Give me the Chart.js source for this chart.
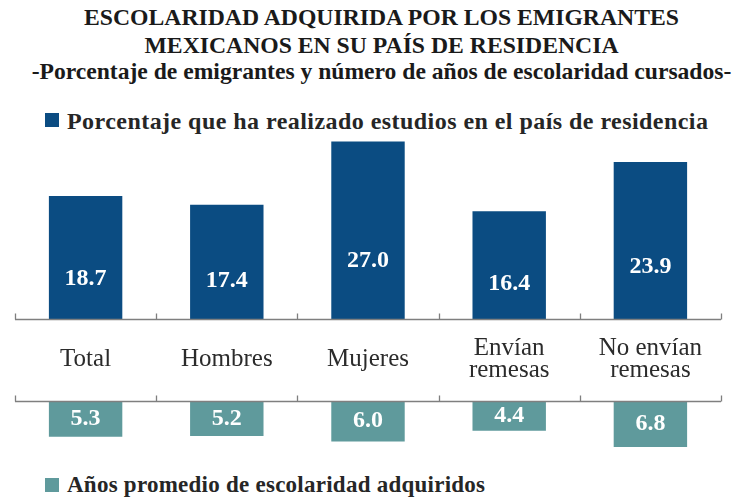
<!DOCTYPE html>
<html>
<head>
<meta charset="utf-8">
<script src="https://cdn.jsdelivr.net/npm/chart.js@4/dist/chart.umd.min.js"></script>
<style>
  body { margin: 0; width: 739px; height: 501px; background: #fff; position: relative; overflow: hidden; font-family: "Liberation Serif", serif; color: #1a1a1a; }
  .t { position: absolute; left: 12px; width: 739px; text-align: center; font-weight: bold; white-space: nowrap; line-height: 1; }
  .legend { position: absolute; left: 67px; font-weight: bold; white-space: nowrap; line-height: 1; color: #262626; }
  .sq { position: absolute; left: 45px; width: 14px; height: 14px; }
  canvas { position: absolute; left: 0; }
</style>
</head>
<body>
<div class="t" style="top:6px;font-size:23.7px;">ESCOLARIDAD ADQUIRIDA POR LOS EMIGRANTES</div>
<div class="t" style="top:34px;font-size:23.7px;">MEXICANOS EN SU PAÍS DE RESIDENCIA</div>
<div class="t" style="top:60px;font-size:23.6px;">-Porcentaje de emigrantes y número de años de escolaridad cursados-</div>
<div class="sq" style="top:113px;background:#0b4c82"></div>
<div class="legend" style="top:109px;font-size:24px;letter-spacing:0.45px;">Porcentaje que ha realizado estudios en el país de residencia</div>
<div class="sq" style="top:478px;background:#5f9a9c"></div>
<div class="legend" style="top:473px;font-size:23px;letter-spacing:0.25px;">Años promedio de escolaridad adquiridos</div>
<canvas id="top" width="739" height="267" style="top:128px"></canvas>
<canvas id="bottom" width="739" height="70" style="top:395px"></canvas>
<script>
const categories = [['Total'], ['Hombres'], ['Mujeres'], ['Envían', 'remesas'], ['No envían', 'remesas']];
const pctStudied = [18.7, 17.4, 27.0, 16.4, 23.9];
const avgYears = [5.3, 5.2, 6.0, 4.4, 6.8];

const BLUE = '#0b4c82';
const TEAL = '#5f9a9c';

// axis line with upward boundary ticks, optional category labels below
function axisPlugin(withLabels) {
  return {
    id: 'axisLine',
    afterDatasetsDraw(chart) {
      const { ctx } = chart;
      const x = chart.scales.x, y = chart.scales.y;
      const base = Math.round(y.getPixelForValue(0)) + 0.5;
      ctx.save();
      ctx.strokeStyle = '#7f7f7f';
      ctx.lineWidth = 1.3;
      ctx.beginPath();
      ctx.moveTo(x.getPixelForValue(-0.5), base);
      ctx.lineTo(x.getPixelForValue(categories.length - 0.5), base);
      for (let i = 0; i <= categories.length; i++) {
        const px = Math.round(x.getPixelForValue(i - 0.5)) + 0.5;
        ctx.moveTo(px, base);
        ctx.lineTo(px, base - 6);
      }
      ctx.stroke();
      if (withLabels) {
        ctx.fillStyle = '#2b2b2b';
        ctx.font = '25px "Liberation Serif", serif';
        ctx.textAlign = 'center';
        ctx.textBaseline = 'middle';
        const lh = 22;
        categories.forEach((lines, i) => {
          const cx = x.getPixelForValue(i);
          const cy = base + 40;
          lines.forEach((ln, j) => {
            ctx.fillText(ln, cx, cy + (j - (lines.length - 1) / 2) * lh);
          });
        });
      }
      ctx.restore();
    }
  };
}

// white value labels inside bars
function valuePlugin(pos) {
  return {
    id: 'values',
    afterDatasetsDraw(chart) {
      const { ctx } = chart;
      const ds = chart.data.datasets[0];
      const x = chart.scales.x, y = chart.scales.y;
      ctx.save();
      ctx.fillStyle = '#ffffff';
      ctx.font = 'bold 24px "Liberation Serif", serif';
      ctx.textAlign = 'center';
      ctx.textBaseline = 'middle';
      ds.data.forEach((v, i) => {
        ctx.fillText(v.toFixed(1), x.getPixelForValue(i), y.getPixelForValue(v * pos));
      });
      ctx.restore();
    }
  };
}

function baseOptions(padding, yMax, reverse) {
  return {
    responsive: false,
    animation: false,
    layout: { padding },
    plugins: { legend: { display: false }, tooltip: { enabled: false } },
    scales: {
      x: { display: false, offset: true },
      y: { display: false, min: 0, max: yMax, reverse }
    }
  };
}

new Chart(document.getElementById('top'), {
  type: 'bar',
  data: {
    labels: categories,
    datasets: [{ data: pctStudied, backgroundColor: BLUE, categoryPercentage: 1, barPercentage: 0.52 }]
  },
  options: baseOptions({ top: 7, bottom: 76, left: 15, right: 18 }, 28, false),
  plugins: [valuePlugin(0.33), axisPlugin(true)]
});

new Chart(document.getElementById('bottom'), {
  type: 'bar',
  data: {
    labels: categories,
    datasets: [{ data: avgYears, backgroundColor: TEAL, categoryPercentage: 1, barPercentage: 0.52 }]
  },
  options: baseOptions({ top: 6, bottom: 10, left: 15, right: 18 }, 8, true),
  plugins: [valuePlugin(0.5), axisPlugin(false)]
});
</script>
</body>
</html>
